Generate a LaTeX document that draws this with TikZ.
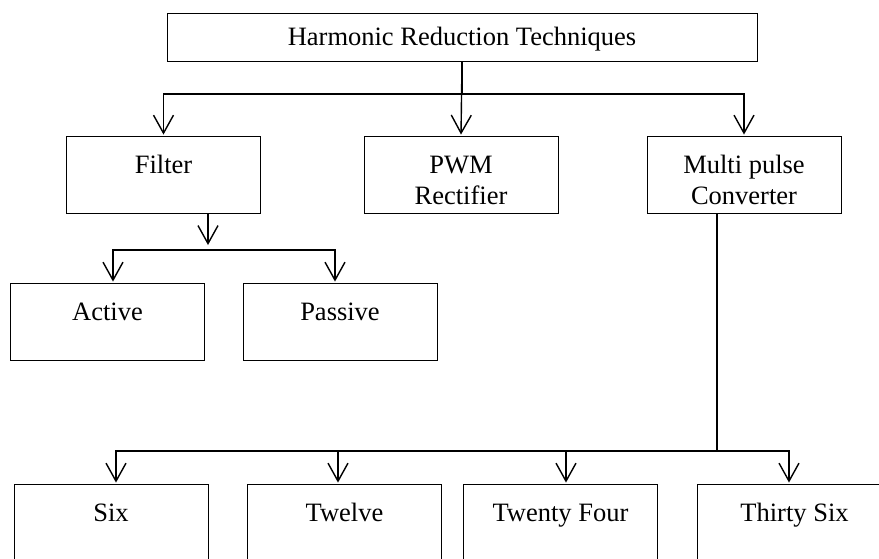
\documentclass[tikz,border=0pt]{standalone}
\usepackage{fontspec}
\setmainfont{Liberation Serif}
\usetikzlibrary{arrows.meta, positioning}
\tikzset{
  block/.style={draw=black, line width=0.9pt, fill=white, inner sep=0pt,
    minimum width=194pt, minimum height=77pt, text height=37pt, text depth=40pt,
    align=center, font=\fontsize{26.5pt}{31pt}\selectfont},
  twoline/.style={block, text height=68pt, text depth=9pt},
  link/.style={line width=1.4pt, line cap=rect},
  arr/.style={line width=1.4pt, -{Straight Barb[length=18pt, width=20pt, line width=1.4pt]}, shorten >=1pt}
}

\begin{document}
\begin{tikzpicture}[x=1pt, y=-1pt]
  \useasboundingbox (0,0) rectangle (879,558);
  \clip (0,0) rectangle (879,558);

  \node[draw=black, line width=0.9pt, inner sep=0pt, minimum width=590pt, minimum height=48pt,
    text height=20pt, text depth=4pt, font=\fontsize{26.5pt}{31pt}\selectfont]
    (top) at (462,37) {Harmonic Reduction Techniques};

  \node[block] (filter) at (163.5,174.5) {Filter};
  \node[twoline] (pwm) at (461,174.5) {PWM\\Rectifier};
  \node[twoline] (multi) at (744,174.5) {Multi pulse\\Converter};

  \node[block] (active) at (107.5,321.5) {Active};
  \node[block] (passive) at (340,321.5) {Passive};

  \node[block] (six) at (111,522.5) {Six};
  \node[block] (twelve) at (344.5,522.5) {Twelve};
  \node[block] (twentyfour) at (560.5,522.5) {Twenty Four};
  \node[block] (thirtysix) at (794.5,522.5) {Thirty Six};

  \coordinate (tbus) at (462,94);
  \draw[arr] (top.south) -- (tbus) -| (filter.north);
  \draw[arr] (top.south) -- (pwm.north);
  \draw[arr] (top.south) -- (tbus) -| (multi.north);

  \coordinate (fbus) at (208,246);
  \coordinate (fa) at (113,250);
  \coordinate (fp) at (335,250);
  \draw[arr] (filter.south -| fbus) -- (fbus);
  \draw[link] (fa) -- (fp);
  \draw[arr] (fa) -- (fa |- active.north);
  \draw[arr] (fp) -- (fp |- passive.north);

  \coordinate (mbus) at (717,451);
  \draw[link] (multi.south -| mbus) -- (mbus);
  \draw[link] (116,451) -- (789,451);
  \foreach \n/\x in {six/116, twelve/338, twentyfour/566, thirtysix/789}{
    \coordinate (b-\n) at (\x,451);
    \draw[arr] (b-\n) -- (b-\n |- \n.north);
  }
\end{tikzpicture}
\end{document}
